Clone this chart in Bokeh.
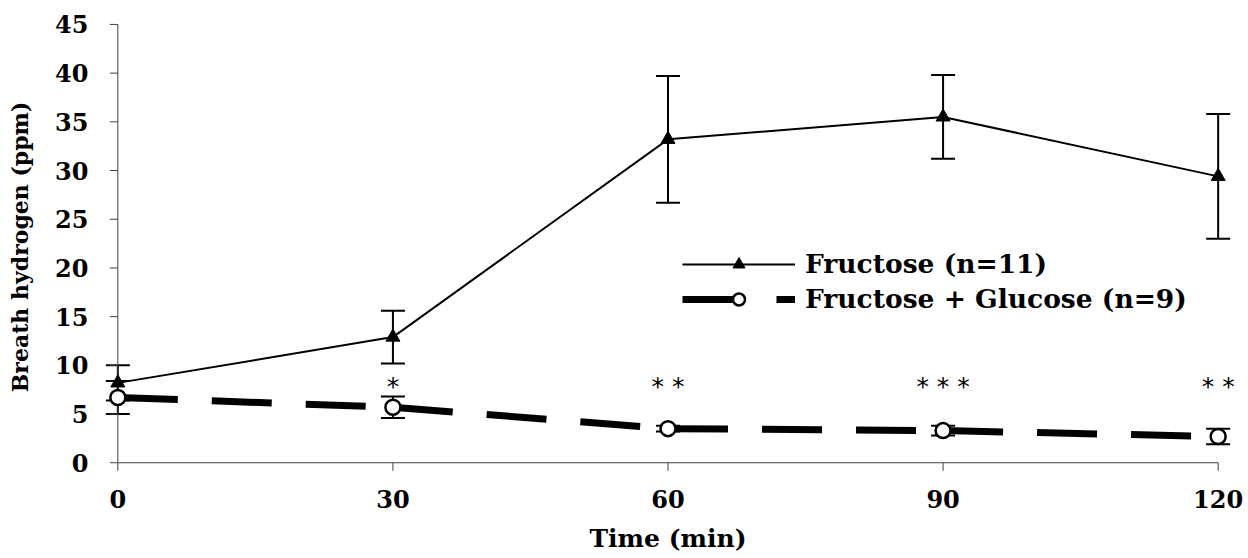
import math
from bokeh.plotting import figure
from bokeh.models import Range1d, Whisker, ColumnDataSource, Legend, LegendItem, TeeHead, FixedTicker
from bokeh.core.properties import value
from bokeh.embed import file_html
from bokeh.resources import INLINE

time_min = [0, 30, 60, 90, 120]
fructose = [8.2, 12.9, 33.2, 35.5, 29.4]
fructose_err = [1.8, 2.7, 6.5, 4.3, 6.4]
fruc_gluc = [6.7, 5.7, 3.5, 3.3, 2.7]
fruc_gluc_err = [1.7, 1.1, 0.3, 0.5, 0.8]
sig_labels = ["", "*", "**", "***", "**"]
sig_level = 7.8

x_ticks = [0, 30, 60, 90, 120]
y_ticks = [0, 5, 10, 15, 20, 25, 30, 35, 40, 45]

FONT = "DejaVu Serif"
AX = "#404040"

p = figure(width=1248, height=558, output_backend="svg", toolbar_location=None,
           x_range=Range1d(-2, 122), y_range=Range1d(-1, 45.3),
           min_border_left=99, min_border_right=12, min_border_top=21, min_border_bottom=86)
p.outline_line_color = None
p.xgrid.visible = False
p.ygrid.visible = False

# default axes only carry the labels; lines and ticks are drawn at the data origin
for ax in (p.xaxis[0], p.yaxis[0]):
    ax.axis_line_color = None
    ax.major_tick_line_color = None
    ax.major_tick_out = 0
    ax.major_tick_in = 0
    ax.minor_tick_line_color = None
    ax.minor_tick_out = 0
    ax.minor_tick_in = 0
    ax.major_label_text_font = FONT
    ax.major_label_text_font_style = "bold"
    ax.major_label_text_font_size = "24px"
    ax.major_label_text_color = "black"
    ax.axis_label_text_font = FONT
    ax.axis_label_text_font_style = "bold"
    ax.axis_label_text_color = "black"

p.xaxis.ticker = FixedTicker(ticks=x_ticks)
p.yaxis.ticker = FixedTicker(ticks=y_ticks)
p.xaxis.axis_label = "Time (min)"
p.yaxis.axis_label = "Breath hydrogen (ppm)"
p.xaxis.axis_label_text_font_size = "25px"
p.yaxis.axis_label_text_font_size = "22px"
p.xaxis.major_label_standoff = 17
p.yaxis.major_label_standoff = 11
p.xaxis.axis_label_standoff = 13
p.yaxis.axis_label_standoff = 19

# axis lines and outward ticks at the origin
p.line([x_ticks[0], x_ticks[-1]], [y_ticks[0], y_ticks[0]], line_color=AX, line_width=1)
p.line([x_ticks[0], x_ticks[0]], [y_ticks[0], y_ticks[-1]], line_color=AX, line_width=1)
p.ray(x=x_ticks, y=[y_ticks[0]] * len(x_ticks), length=8, length_units="screen",
      angle=-math.pi / 2, line_color=AX, line_width=1)
p.ray(x=[x_ticks[0]] * len(y_ticks), y=y_ticks, length=8, length_units="screen",
      angle=math.pi, line_color=AX, line_width=1)

fr_src = ColumnDataSource(dict(
    x=time_min, y=fructose,
    lo=[v - e for v, e in zip(fructose, fructose_err)],
    hi=[v + e for v, e in zip(fructose, fructose_err)]))
fg_src = ColumnDataSource(dict(
    x=time_min, y=fruc_gluc,
    lo=[v - e for v, e in zip(fruc_gluc, fruc_gluc_err)],
    hi=[v + e for v, e in zip(fruc_gluc, fruc_gluc_err)]))

for src in (fr_src, fg_src):
    w = Whisker(source=src, base="x", lower="lo", upper="hi", level="underlay",
                line_color="black", line_width=2,
                upper_head=TeeHead(size=24, line_width=2, line_color="black"),
                lower_head=TeeHead(size=24, line_width=2, line_color="black"))
    p.add_layout(w)

# dashed series drawn segment by segment so the dash restarts at each point
seg_xs = [[time_min[i], time_min[i + 1]] for i in range(len(time_min) - 1)]
seg_ys = [[fruc_gluc[i], fruc_gluc[i + 1]] for i in range(len(fruc_gluc) - 1)]
fg_line = p.multi_line(seg_xs, seg_ys, line_color="black", line_width=7, line_dash="60 34")
fg_pts = p.scatter("x", "y", source=fg_src, marker="circle", size=15,
                   fill_color="white", line_color="black", line_width=2.5)

fr_line = p.line("x", "y", source=fr_src, line_color="black", line_width=2)
fr_pts = p.scatter("x", "y", source=fr_src, marker="triangle", size=14,
                   fill_color="black", line_color="black")

sig_src = ColumnDataSource(dict(x=time_min, y=[sig_level] * len(time_min),
                                t=[" ".join(list(s)) for s in sig_labels]))
p.text("x", "y", text="t", source=sig_src, text_font=value("DejaVu Sans"),
       text_font_size="25px", text_align="center", text_baseline="middle", text_color="black")

legend = Legend(items=[
    LegendItem(label="Fructose (n=11)", renderers=[fr_line, fr_pts]),
    LegendItem(label="Fructose + Glucose (n=9)", renderers=[fg_line, fg_pts]),
], location=(583, 158))
legend.glyph_width = 113
legend.glyph_height = 30
legend.spacing = 4
legend.padding = 0
legend.margin = 0
legend.label_standoff = 10
legend.border_line_color = None
legend.background_fill_alpha = 0
legend.label_text_font = FONT
legend.label_text_font_style = "bold"
legend.label_text_font_size = "26.5px"
legend.label_text_color = "black"
p.add_layout(legend)

open("out.html", "w").write(file_html(p, INLINE))
